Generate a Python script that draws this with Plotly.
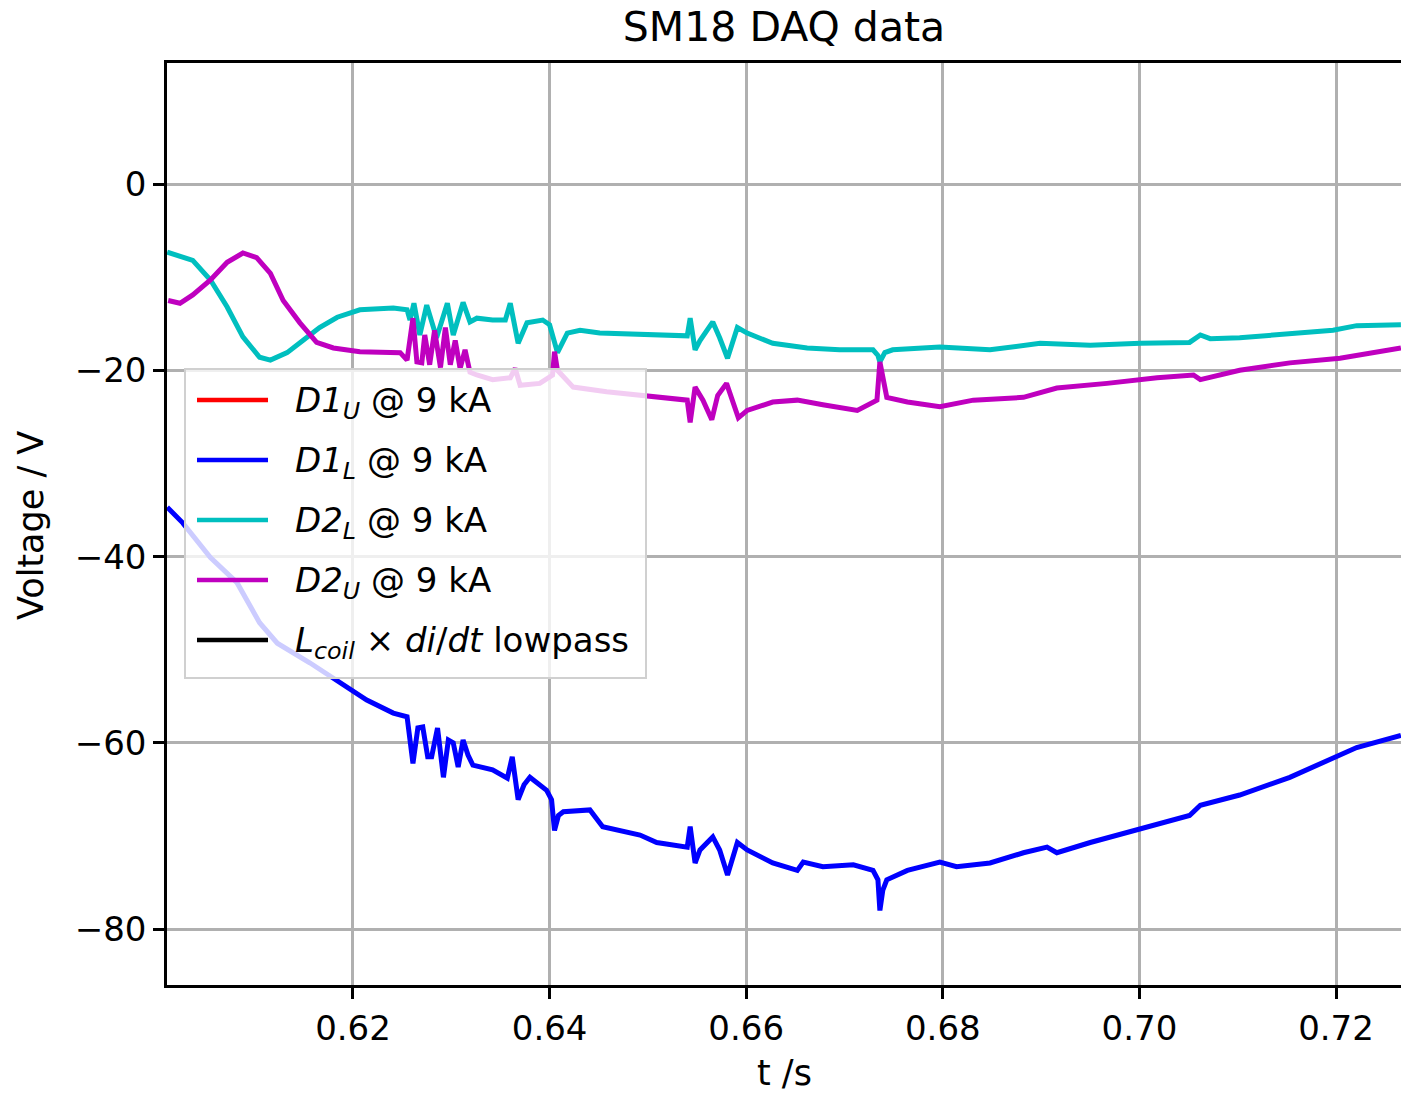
import plotly.graph_objects as go

# ---------------- data ----------------
t_d1l = [0.6011, 0.6027, 0.6055, 0.6082, 0.6105, 0.6123, 0.6156, 0.6184, 0.6214, 0.6241,
         0.6255, 0.6261, 0.6266, 0.6271, 0.6276, 0.6280, 0.6286, 0.6292, 0.6297, 0.6302,
         0.6307, 0.6312, 0.6317, 0.6322, 0.6342, 0.6357, 0.6362, 0.6368, 0.6374, 0.6380,
         0.6397, 0.6402, 0.6405, 0.6409, 0.6414, 0.6441, 0.6454, 0.6492, 0.6509, 0.6540,
         0.6543, 0.6548, 0.6553, 0.6566, 0.6573, 0.6581, 0.6591, 0.6601, 0.6627, 0.6652,
         0.6658, 0.6678, 0.6709, 0.6729, 0.6734, 0.6736, 0.6739, 0.6743, 0.6764, 0.6797,
         0.6814, 0.6848, 0.6882, 0.6906, 0.6916, 0.6950, 0.7001, 0.7051, 0.7062, 0.7102,
         0.7153, 0.7201, 0.7221, 0.7266]
v_d1l = [-34.7, -36.4, -40.1, -42.8, -47.1, -49.3, -51.4, -53.3, -55.4, -56.8,
         -57.2, -62.2, -58.4, -58.3, -61.5, -61.5, -58.4, -63.7, -59.7, -60.0,
         -62.6, -59.7, -61.3, -62.4, -62.9, -63.8, -61.5, -66.1, -64.5, -63.7,
         -65.1, -66.1, -69.4, -67.8, -67.4, -67.2, -69.0, -69.9, -70.7, -71.2,
         -69.0, -72.9, -71.5, -70.1, -71.5, -74.2, -70.7, -71.5, -72.9, -73.7,
         -72.8, -73.3, -73.1, -73.7, -74.7, -78.0, -75.8, -74.7, -73.7, -72.8,
         -73.3, -72.9, -71.8, -71.2, -71.8, -70.7, -69.2, -67.8, -66.7, -65.6,
         -63.7, -61.5, -60.5, -59.2]

t_d2l = [0.6011, 0.6037, 0.6055, 0.6072, 0.6088, 0.6105, 0.6116, 0.6133, 0.6149, 0.6166,
         0.6184, 0.6207, 0.6241, 0.6255, 0.6258, 0.6262, 0.6268, 0.6275, 0.6285, 0.6296,
         0.6302, 0.6312, 0.6319, 0.6326, 0.6342, 0.6355, 0.6360, 0.6368, 0.6377, 0.6393,
         0.6400, 0.6408, 0.6418, 0.6431, 0.6451, 0.6502, 0.6540, 0.6543, 0.6548, 0.6553,
         0.6566, 0.6573, 0.6581, 0.6591, 0.6601, 0.6627, 0.6662, 0.6695, 0.6729, 0.6734,
         0.6736, 0.6741, 0.6749, 0.6797, 0.6848, 0.6899, 0.6950, 0.7001, 0.7051, 0.7062,
         0.7072, 0.7102, 0.7153, 0.7197, 0.7221, 0.7266]
v_d2l = [-7.3, -8.2, -10.3, -13.2, -16.4, -18.6, -18.9, -18.1, -16.8, -15.4,
         -14.3, -13.5, -13.3, -13.5, -14.6, -12.8, -16.2, -13.0, -16.5, -12.8,
         -16.2, -12.7, -14.8, -14.4, -14.6, -14.6, -12.8, -17.1, -14.9, -14.6,
         -15.1, -18.1, -16.0, -15.7, -16.0, -16.2, -16.3, -14.4, -17.8, -16.8,
         -14.8, -16.5, -18.7, -15.4, -16.0, -17.1, -17.6, -17.8, -17.8, -18.4,
         -19.1, -18.1, -17.8, -17.5, -17.8, -17.1, -17.3, -17.1, -17.0, -16.2,
         -16.6, -16.5, -16.0, -15.7, -15.2, -15.1]

t_d2u = [0.6012, 0.6024, 0.6037, 0.6055, 0.6072, 0.6088, 0.6102, 0.6116, 0.6129, 0.6146,
         0.6163, 0.6180, 0.6207, 0.6248, 0.6255, 0.6258, 0.6261, 0.6265, 0.6270, 0.6273,
         0.6278, 0.6283, 0.6289, 0.6294, 0.6299, 0.6304, 0.6309, 0.6314, 0.6319, 0.6326,
         0.6342, 0.6360, 0.6365, 0.6370, 0.6390, 0.6403, 0.6405, 0.6408, 0.6424, 0.6458,
         0.6499, 0.6540, 0.6543, 0.6548, 0.6556, 0.6565, 0.6571, 0.6580, 0.6592, 0.6601,
         0.6627, 0.6652, 0.6678, 0.6713, 0.6733, 0.6736, 0.6743, 0.6764, 0.6797, 0.6831,
         0.6882, 0.6916, 0.6967, 0.7018, 0.7055, 0.7062, 0.7102, 0.7153, 0.7204, 0.7238,
         0.7266]
v_d2u = [-12.5, -12.8, -11.9, -10.3, -8.4, -7.4, -7.9, -9.6, -12.5, -14.9,
         -17.0, -17.6, -18.0, -18.1, -18.9, -16.8, -14.4, -19.1, -19.2, -16.2,
         -19.4, -15.7, -19.7, -15.4, -19.4, -16.8, -19.8, -17.8, -20.2, -20.5,
         -21.0, -20.8, -19.8, -21.6, -21.4, -20.5, -18.0, -20.0, -21.8, -22.3,
         -22.7, -23.2, -25.6, -21.8, -23.2, -25.3, -22.7, -21.4, -25.1, -24.3,
         -23.4, -23.2, -23.7, -24.3, -23.2, -19.1, -22.9, -23.4, -23.9, -23.2,
         -22.9, -21.9, -21.4, -20.8, -20.5, -21.0, -20.0, -19.2, -18.7, -18.1,
         -17.6]

legend_labels = [
    "<i>D1</i><sub><i>U</i></sub> @ 9 kA",
    "<i>D1</i><sub><i>L</i></sub> @ 9 kA",
    "<i>D2</i><sub><i>L</i></sub> @ 9 kA",
    "<i>D2</i><sub><i>U</i></sub> @ 9 kA",
    "<i>L</i><sub><i>coil</i></sub> × <i>di</i>/<i>dt</i> lowpass",
]
legend_colors = ["#ff0000", "#0000ff", "#00bfbf", "#bf00bf", "#000000"]

x_ticks = [0.62, 0.64, 0.66, 0.68, 0.70, 0.72]
y_ticks = [0, -20, -40, -60, -80]
x_range = [0.60108, 0.72661]
y_range = [-86.0, 13.0]

# ---------------- layout geometry ----------------
W, H = 1401, 1094
ML, MR, MT, MB = 167, 0, 63, 109
PW, PH = W - ML - MR, H - MT - MB
FONT = "DejaVu Sans"
TICK_SIZE = 34
LABEL_SIZE = 35
TITLE_SIZE = 41
LEGEND_SIZE = 34


def px_x(px):
    return (px - ML) / PW


def px_y(py):
    return (H - MB - py) / PH


fig = go.Figure()
series = [
    (t_d1l, v_d1l, legend_colors[1]),
    (t_d2l, v_d2l, legend_colors[2]),
    (t_d2u, v_d2u, legend_colors[3]),
]
for tx, vy, col in series:
    fig.add_trace(go.Scatter(x=tx, y=vy, mode="lines",
                             line=dict(color=col, width=5),
                             showlegend=False, hoverinfo="skip"))

shapes = []
annotations = []

# legend box
shapes.append(dict(type="rect", xref="paper", yref="paper",
                   x0=px_x(185), x1=px_x(646), y0=px_y(678), y1=px_y(369),
                   fillcolor="rgba(255,255,255,0.8)",
                   line=dict(color="#d0d0d0", width=2), layer="above"))
row_y = [400, 460, 520, 580, 640]
for lab, col, ry in zip(legend_labels, legend_colors, row_y):
    shapes.append(dict(type="line", xref="paper", yref="paper",
                       x0=px_x(197), x1=px_x(268), y0=px_y(ry), y1=px_y(ry),
                       line=dict(color=col, width=4.5), layer="above"))
    annotations.append(dict(text=lab, xref="paper", yref="paper",
                            x=px_x(293), y=px_y(ry + 2), xanchor="left", yanchor="middle",
                            showarrow=False,
                            font=dict(family=FONT, size=LEGEND_SIZE, color="black")))

# axis titles
annotations.append(dict(text="Voltage / V", xref="paper", yref="paper",
                        x=px_x(31), y=px_y(526), xanchor="center", yanchor="middle",
                        textangle=-90, showarrow=False,
                        font=dict(family=FONT, size=LABEL_SIZE, color="black")))
annotations.append(dict(text="t /s", xref="paper", yref="paper",
                        x=px_x(784), y=px_y(1073), xanchor="center", yanchor="middle",
                        showarrow=False, font=dict(family=FONT, size=LABEL_SIZE, color="black")))

fig.update_layout(
    width=W, height=H,
    margin=dict(l=ML, r=MR, t=MT, b=MB, pad=0),
    paper_bgcolor="white", plot_bgcolor="white",
    title=dict(text="SM18 DAQ data", x=784 / W, xanchor="center",
               y=1 - 27 / H, yanchor="middle", yref="container",
               font=dict(family=FONT, size=TITLE_SIZE, color="black")),
    font=dict(family=FONT, size=TICK_SIZE, color="black"),
    shapes=shapes, annotations=annotations,
    showlegend=False,
)
fig.update_xaxes(range=x_range, tickvals=x_ticks, tickformat=".2f",
                 showgrid=True, gridcolor="#b0b0b0", gridwidth=2.5,
                 showline=True, linecolor="black", linewidth=2.5, mirror=True,
                 ticks="outside", ticklen=11, tickwidth=2.5, tickcolor="black",
                 zeroline=False, tickfont=dict(family=FONT, size=TICK_SIZE, color="black"))
fig.update_yaxes(range=y_range, tickvals=y_ticks,
                 showgrid=True, gridcolor="#b0b0b0", gridwidth=2.5,
                 showline=True, linecolor="black", linewidth=2.5, mirror=False,
                 ticks="outside", ticklen=11, tickwidth=2.5, tickcolor="black",
                 zeroline=False, tickfont=dict(family=FONT, size=TICK_SIZE, color="black"))

fig.write_html("out.html")
